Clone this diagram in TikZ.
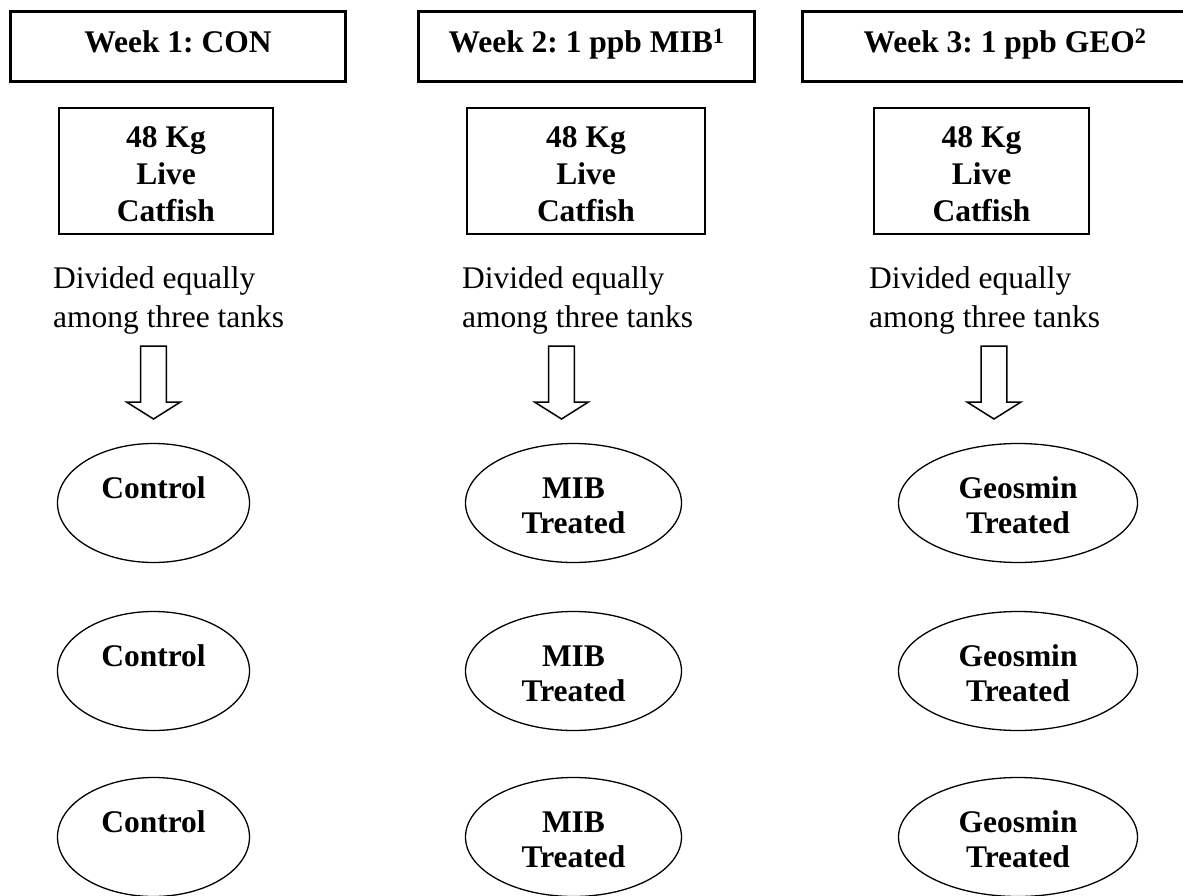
\documentclass[tikz,border=0pt]{standalone}
\usepackage{fontspec}
\setmainfont{Liberation Serif}
\usetikzlibrary{shapes.geometric}
\frenchspacing
\tikzset{
  weekbox/.style={draw, line width=3pt, inner sep=0pt, minimum height=70pt,
    font=\bfseries\fontsize{31.5}{38}\selectfont, text height=20pt, text depth=7pt},
  fishbox/.style={draw, line width=1.6pt, inner sep=0pt, minimum height=126.4pt,
    align=center, font=\bfseries\fontsize{31.5}{37}\selectfont,
    text height=102pt, text depth=0pt},
  note/.style={anchor=base west, align=left, inner sep=0pt,
    font=\fontsize{31.5}{38.5}\selectfont},
  tank/.style={draw, ellipse, line width=1.3pt, inner sep=0pt, minimum height=119pt,
    font=\bfseries\fontsize{31.5}{35}\selectfont},
  tanktwo/.style={tank, align=center, text height=60pt, text depth=0pt},
  tankone/.style={tank, text height=21pt, text depth=31pt},
  pics/downarrow/.style={code={
    \draw[line width=1.5pt, line join=miter]
      (-12.8,0) -- (12.8,0) -- (12.8,56) -- (27,56) -- (0,73)
      -- (-27,56) -- (-12.8,56) -- cycle;}}
}
\begin{document}
\begin{tikzpicture}[x=1pt, y=-1pt]
\useasboundingbox (0,0) rectangle (1183,896);
\clip (0,0) rectangle (1183,896);

% week headers
\node[weekbox, minimum width=335pt] (w1) at (178,46.5) {Week 1: CON};
\node[weekbox, minimum width=336pt] (w2) at (586.5,46.5) {Week 2: 1 ppb MIB\textsuperscript{1}};
\node[weekbox, minimum width=405pt] (w3) at (1005,46.5) {Week 3: 1 ppb GEO\textsuperscript{2}};

% fish boxes
\node[fishbox, minimum width=214.4pt] (f1) at (166,171) {48 Kg\\Live\\Catfish};
\node[fishbox, minimum width=238.4pt] (f2) at (586,171) {48 Kg\\Live\\Catfish};
\node[fishbox, minimum width=215.4pt] (f3) at (981.5,171) {48 Kg\\Live\\Catfish};

% notes
\node[note] (d1) at (53,327) {Divided equally\\among three tanks};
\node[note] (d2) at (462,327) {Divided equally\\among three tanks};
\node[note] (d3) at (869,327) {Divided equally\\among three tanks};

% block arrows
\pic at (153.5,346) {downarrow};
\pic at (561.5,346) {downarrow};
\pic at (994,346) {downarrow};

% tanks
\node[tankone, minimum width=192pt] (c1) at (153.5,503) {Control};
\node[tankone, minimum width=192pt] (c2) at (153.5,671) {Control};
\node[tankone, minimum width=192pt] (c3) at (153.5,837) {Control};

\node[tanktwo, minimum width=216pt] (m1) at (573.5,503) {MIB\\Treated};
\node[tanktwo, minimum width=216pt] (m2) at (573.5,671) {MIB\\Treated};
\node[tanktwo, minimum width=216pt] (m3) at (573.5,837) {MIB\\Treated};

\node[tanktwo, minimum width=239pt] (g1) at (1018,503) {Geosmin\\Treated};
\node[tanktwo, minimum width=239pt] (g2) at (1018,671) {Geosmin\\Treated};
\node[tanktwo, minimum width=239pt] (g3) at (1018,837) {Geosmin\\Treated};
\end{tikzpicture}
\end{document}
